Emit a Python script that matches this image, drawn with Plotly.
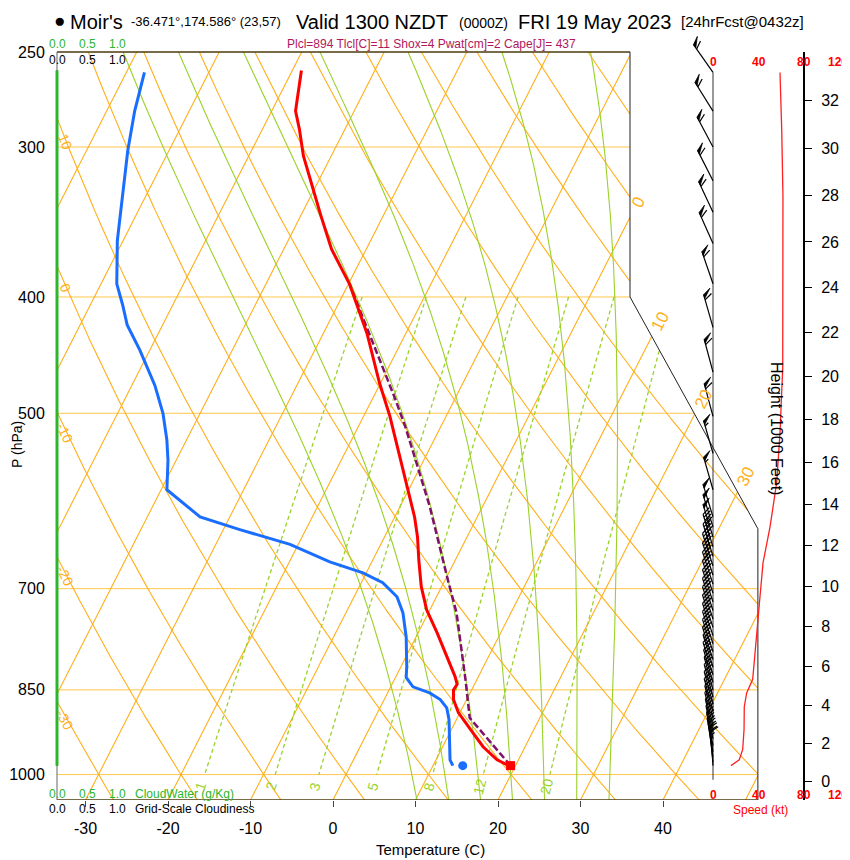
import numpy as np
import plotly.graph_objects as go

# ================= sounding data =================
TEMP_P = [259, 280, 290, 305, 323, 342, 365, 390, 429, 472, 503, 544, 582, 610,
          634, 663, 697, 729, 762, 798, 829, 841, 850, 866, 888, 917, 948, 972, 983]
TEMP_C = [-48.9, -47.1, -45.5, -43.4, -40.5, -37.6, -34.2, -29.9, -24.7, -20.1, -16.8, -13.1, -9.9, -7.6,
          -6.0, -4.4, -2.5, -0.4, 2.3, 5.0, 7.2, 7.9, 7.8, 8.4, 9.8, 12.3, 14.9, 17.4, 19.2]

DEW_P = [260, 280, 302, 332, 359, 390, 406, 422, 443, 474, 500, 526, 547, 579, 610, 625, 643,
         665, 679, 692, 711, 733, 768, 813, 830, 845, 855, 866, 880, 900, 948, 972, 983]
DEW_C = [-67.8, -66.6, -65.0, -62.6, -60.7, -58.1, -56.1, -54.3, -51.2, -47.2, -44.5, -42.4, -41.0,
         -39.3, -33.6, -28.0, -21.0, -15.1, -10.4, -7.4, -4.8, -3.1, -1.2, 0.7, 1.3, 2.7, 5.1, 6.8,
         8.1, 9.1, 10.9, 11.7, 12.4]

PARCEL_P = [983, 897, 833, 733, 688, 646, 598, 550, 513, 485, 458, 429, 410, 390]
PARCEL_C = [19.4, 11.5, 8.6, 3.4, 0.3, -2.7, -6.4, -10.7, -14.3, -17.4, -20.7, -24.4, -27.0, -29.9]

SFC_P = [983]
SFC_T = [19.4]
SFC_TD = [13.6]

SPEED_P = [260, 290, 330, 375, 421, 458, 519, 571, 622, 666, 711, 757, 798, 833, 855, 878,
           917, 953, 972, 981, 983]
SPEED_KT = [58.9, 60.4, 61.5, 61.5, 61.3, 61.3, 58.9, 56.0, 50.1, 44.0, 41.3, 38.7, 36.9, 34.9,
            29.6, 27.5, 27.3, 26.1, 23.1, 17.8, 15.8]

BARB_P = [260, 280, 300, 320, 340, 361, 390, 424, 462, 503, 540, 579, 610,
          622, 634, 646, 658, 670, 682, 694, 706, 718, 730, 742, 754, 766, 778, 790, 802,
          814, 826, 838, 850, 862, 874, 886, 898, 910, 922, 934, 946, 957, 967, 976, 983]
BARB_KT = [59, 60, 60, 61, 61, 61, 61, 61, 61, 59, 57, 55, 52,
           50, 48, 46, 45, 44, 43, 42, 41, 41, 40, 40, 39, 39, 38, 38, 37,
           37, 36, 35, 32, 30, 29, 28, 27, 27, 27, 27, 26, 25, 23, 20, 16]
BARB_DIR = [325, 328, 332, 333, 335, 336, 341, 344, 345, 345, 344, 344, 343,
            343, 343, 343, 343, 342, 342, 342, 342, 342, 342, 342, 342, 342, 342, 342, 342,
            343, 343, 344, 345, 345, 345, 345, 346, 346, 347, 348, 349, 350, 352, 354, 356]

CLOUD_P = [259, 983]
CLOUD_W = [0.0, 0.0]
CLOUDINESS = [0.0, 0.0]

# ================= chart furniture values =================
ISOTHERMS = [-110, -100, -90, -80, -70, -60, -50, -40, -30, -20, -10, 0, 10, 20, 30, 40, 50]
DRY_ADIABATS = [-40, -30, -20, -10, 0, 10, 20, 30, 40, 50, 60, 70, 80, 90, 100, 110, 120, 130, 140]
MOIST_ADIABATS = [8, 12, 16, 20, 24, 28, 32]
MIX_RATIOS = [1, 2, 3, 5, 8, 12, 20]
MIX_LABELS = ["1", "2", "3", "5", "8", "12", "20"]
ISOBARS = [300, 400, 500, 700, 850, 1000]
P_TICKS = [250, 300, 400, 500, 700, 850, 1000]
T_TICKS = [-30, -20, -10, 0, 10, 20, 30, 40]
HEIGHT_KFT = [0, 2, 4, 6, 8, 10, 12, 14, 16, 18, 20, 22, 24, 26, 28, 30, 32]
ISOTHERM_LABELS = [0, 10, 20, 30]
DRY_LABELS = [-30, -20, -10, 0, 10]
SPEED_TICKS = [0, 40, 80, 120]
CLOUD_TICKS = ["0.0", "0.5", "1.0"]
CLOUD_TICK_V = [0.0, 0.5, 1.0]
STAFF_P = [260, 1010]
HEIGHT_AXIS_P = [250, 1050]
FRAME_R_P = [250, 400, 624, 1050]
FRAME_R_X = [36.0, 36.0, 51.5, 51.5]

# ================= geometry (reference pixel frame) =================
PAGE_OFF = 8                         # default body margin of the html page
W_REF, H_REF = 850, 860
PL_REF, PR_REF, PT_REF, PB_REF = 45, 850, 30, 800   # plot area edges in reference pixels
W, H = W_REF - PAGE_OFF, H_REF - PAGE_OFF
ML, MR = PL_REF - PAGE_OFF, W_REF - PR_REF
MT, MB = PT_REF - PAGE_OFF, H_REF - PB_REF
PW, PH = PR_REF - PL_REF, PB_REF - PT_REF
Y_BOT = PB_REF
P_TOP, P_BOT = 250.0, 1050.0
FRAME_TOP_PX = 52
PX_LN = (Y_BOT - FRAME_TOP_PX) / np.log(P_BOT / P_TOP)
P_AX_TOP = P_BOT * np.exp(-PH / PX_LN)
SKEW = 32.2
PX_DEG = 8.25
X0_PX = 333
X_LEFT = (57 - X0_PX) / PX_DEG
SPD0_PX, PX_KT = 713, 1.1375
CLD0_PX, PX_CLD = 57, 60.0

FONT = "Liberation Sans, Arial, Helvetica, sans-serif"
ORANGE = "#FFAF1A"
ISOBAR_C = "#FFC64D"
GREEN = "#9AD22A"
CLOUDGREEN = "#2DB52D"


def skewx(T, p):
    return np.asarray(T, float) + SKEW * np.log(P_BOT / np.asarray(p, float))


def px_x(X):
    return X0_PX + PX_DEG * X


def px_y(p):
    return Y_BOT - PX_LN * np.log(P_BOT / p)


def paper(px, py):
    return (px - PL_REF) / PW, (Y_BOT - py) / PH


def xright(p):
    return np.interp(np.log(p), np.log(FRAME_R_P), FRAME_R_X)


def inside(X, p):
    return (X >= X_LEFT - 1e-9) & (X <= xright(p) + 1e-9) & (p >= P_TOP - 1e-9) & (p <= P_BOT + 1e-9)


def es(tc):
    return 6.112 * np.exp(17.67 * tc / (tc + 243.5))


def td_from_w(w, p):
    e = w * p / (622.0 + w)
    a = np.log(e / 6.112)
    return 243.5 * a / (17.67 - a)


RD, CP, LV, EPS = 287.04, 1005.7, 2.501e6, 0.622


def dTdp(tk, p):
    e = es(tk - 273.15)
    r = EPS * e / (p - e)
    return (RD * tk + LV * r) / (CP + LV * LV * r * EPS / (RD * tk * tk)) / p


def moist(tw, pgrid):
    T = tw + 273.15
    out = [T]
    for i in range(len(pgrid) - 1):
        p0, p1 = pgrid[i], pgrid[i + 1]
        h = p1 - p0
        k1 = dTdp(T, p0)
        k2 = dTdp(T + h * k1 / 2, p0 + h / 2)
        k3 = dTdp(T + h * k2 / 2, p0 + h / 2)
        k4 = dTdp(T + h * k3, p1)
        T = T + h * (k1 + 2 * k2 + 2 * k3 + k4) / 6
        out.append(T)
    return np.array(out) - 273.15


fig = go.Figure()


def nan2none(a):
    return [None if (v is None or (isinstance(v, float) and np.isnan(v))) else float(v) for v in a]


def add_family(lines, color, width, dash=None, xaxis="x"):
    xs, ys = [], []
    for X, P in lines:
        xs.extend(nan2none(list(X)) + [None])
        ys.extend([float(v) for v in P] + [None])
    fig.add_trace(go.Scatter(x=xs, y=ys, mode="lines", xaxis=xaxis, yaxis="y",
                             line=dict(color=color, width=width, dash=dash),
                             hoverinfo="skip", connectgaps=False))


def clipped(X, p):
    X = np.array(X, float)
    X[~inside(X, p)] = np.nan
    return X, p


PD = np.geomspace(P_TOP, P_BOT, 2500)

# isobars
iso_lines = []
for pb in ISOBARS:
    iso_lines.append(([X_LEFT, float(xright(pb))], [pb, pb]))
add_family(iso_lines, ISOBAR_C, 1.0)

# isotherms
add_family([clipped(skewx(np.full_like(PD, t), PD), PD) for t in ISOTHERMS], ORANGE, 1.1)

# dry adiabats
dry = []
for th in DRY_ADIABATS:
    T = (th + 273.15) * (PD / 1000.0) ** 0.2857 - 273.15
    dry.append(clipped(skewx(T, PD), PD))
add_family(dry, ORANGE, 1.1)

# moist adiabats
p_up = np.geomspace(1000, P_TOP, 500)
p_dn = np.geomspace(1000, P_BOT, 20)
moist_lines = []
for tw in MOIST_ADIABATS:
    tu = moist(tw, p_up)
    td = moist(tw, p_dn)
    pp = np.concatenate([p_dn[::-1], p_up[1:]])
    tt = np.concatenate([td[::-1], tu[1:]])
    moist_lines.append(clipped(skewx(tt, pp), pp))
add_family(moist_lines, GREEN, 1.1)

# mixing ratio lines
pm = np.geomspace(400, 1000, 400)
add_family([clipped(skewx(td_from_w(w, pm), pm), pm) for w in MIX_RATIOS], GREEN, 1.3, dash="4px,3px")

# frame
fig.add_trace(go.Scatter(x=[X_LEFT, FRAME_R_X[0]], y=[P_TOP, P_TOP], mode="lines",
                         line=dict(color="#4B3A0E", width=1.5), hoverinfo="skip"))
fig.add_trace(go.Scatter(x=[X_LEFT, FRAME_R_X[-1]], y=[P_BOT, P_BOT], mode="lines",
                         line=dict(color="#4B3A0E", width=1.5), hoverinfo="skip"))
fig.add_trace(go.Scatter(x=[X_LEFT, X_LEFT], y=[P_TOP, P_BOT * 1.008], mode="lines",
                         line=dict(color="#666666", width=1), hoverinfo="skip"))
fig.add_trace(go.Scatter(x=FRAME_R_X, y=FRAME_R_P, mode="lines",
                         line=dict(color="#222222", width=1), hoverinfo="skip"))

# cloud water / cloudiness (zero)
fig.add_trace(go.Scatter(x=CLOUDINESS, y=CLOUD_P, xaxis="x3", mode="lines",
                         line=dict(color="black", width=1), hoverinfo="skip"))
fig.add_trace(go.Scatter(x=CLOUD_W, y=CLOUD_P, xaxis="x3", mode="lines",
                         line=dict(color=CLOUDGREEN, width=3), hoverinfo="skip"))

# profiles
fig.add_trace(go.Scatter(x=skewx(DEW_C, DEW_P), y=DEW_P, mode="lines",
                         line=dict(color="#1A6EFF", width=3), hoverinfo="skip"))
fig.add_trace(go.Scatter(x=skewx(PARCEL_C, PARCEL_P), y=PARCEL_P, mode="lines",
                         line=dict(color="#80106A", width=2.5, dash="7px,3px"), hoverinfo="skip"))
fig.add_trace(go.Scatter(x=skewx(TEMP_C, TEMP_P), y=TEMP_P, mode="lines",
                         line=dict(color="#FF0000", width=3), hoverinfo="skip"))
fig.add_trace(go.Scatter(x=skewx(SFC_TD, SFC_P), y=SFC_P, mode="markers",
                         marker=dict(color="#1A6EFF", size=9, symbol="circle"), hoverinfo="skip"))
fig.add_trace(go.Scatter(x=skewx(SFC_T, SFC_P), y=SFC_P, mode="markers",
                         marker=dict(color="#FF0000", size=9, symbol="square"), hoverinfo="skip"))

# ---- wind panel ----
fig.add_trace(go.Scatter(x=[0, 0], y=STAFF_P, xaxis="x2", mode="lines",
                         line=dict(color="#333333", width=1), hoverinfo="skip"))
fig.add_trace(go.Scatter(x=[80, 80], y=HEIGHT_AXIS_P, xaxis="x2", mode="lines",
                         line=dict(color="black", width=2), hoverinfo="skip"))
fig.add_trace(go.Scatter(x=SPEED_KT, y=SPEED_P, xaxis="x2", mode="lines",
                         line=dict(color="#FF2020", width=1.3), hoverinfo="skip"))

STAFF_L, FEATH_L, FLAG_W, SPACING = 34.0, 9.0, 4.0, 3.2
bx, by, fx_all, fy_all = [], [], [], []
for p0, kt, d in zip(BARB_P, BARB_KT, BARB_DIR):
    r = np.radians(d)
    sx, sy = np.sin(r), -np.cos(r)
    nx, ny = -sy, sx
    fx, fy = 0.87 * nx + 0.5 * sx, 0.87 * ny + 0.5 * sy

    def pt(dist):
        return (STAFF_L - dist) * sx, (STAFF_L - dist) * sy

    def conv(pxs, pys):
        return [v / PX_KT for v in pxs], [p0 * np.exp(v / PX_LN) for v in pys]

    segs = [([0, STAFF_L * sx], [0, STAFF_L * sy])]
    polys = []
    n = int(round(kt / 5.0)) * 5
    nfl = n // 50
    n -= 50 * nfl
    nfull = n // 10
    nhalf = (n % 10) // 5
    pos = 0.0
    for _ in range(nfl):
        ax, ay = pt(pos)
        cx, cy = pt(pos + FLAG_W)
        polys.append(([ax, ax + FEATH_L * fx, cx, ax], [ay, ay + FEATH_L * fy, cy, ay]))
        pos += FLAG_W + 1.5
    for _ in range(nfull):
        ax, ay = pt(pos)
        segs.append(([ax, ax + FEATH_L * fx], [ay, ay + FEATH_L * fy]))
        pos += SPACING
    if nhalf:
        if nfl == 0 and nfull == 0:
            pos += SPACING
        ax, ay = pt(pos)
        segs.append(([ax, ax + FEATH_L * 0.5 * fx], [ay, ay + FEATH_L * 0.5 * fy]))
    for sxs, sys_ in segs:
        a, b = conv(sxs, sys_)
        bx.extend(a + [None]); by.extend(b + [None])
    for sxs, sys_ in polys:
        a, b = conv(sxs, sys_)
        fx_all.extend(a + [None]); fy_all.extend(b + [None])

fig.add_trace(go.Scatter(x=bx, y=by, xaxis="x2", mode="lines",
                         line=dict(color="black", width=1.2), hoverinfo="skip"))
fig.add_trace(go.Scatter(x=fx_all, y=fy_all, xaxis="x2", mode="lines", fill="toself",
                         fillcolor="black", line=dict(color="black", width=0.8), hoverinfo="skip"))

# height axis dummy trace
HEIGHT_P = [1013.25 * (1 - 2.25577e-5 * h * 304.8) ** 5.25588 for h in HEIGHT_KFT]
fig.add_trace(go.Scatter(x=[0], y=[500], xaxis="x2", yaxis="y2", mode="markers",
                         marker=dict(opacity=0), hoverinfo="skip"))

# ================= annotations =================
ann = []


def text(px, py, s, size, color="black", xanchor="center", angle=0, yanchor="middle"):
    x, y = paper(px, py)
    ann.append(dict(x=x, y=y, xref="paper", yref="paper", text=s, showarrow=False,
                    xanchor=xanchor, yanchor=yanchor, textangle=angle,
                    font=dict(family=FONT, size=size, color=color)))


# title
text(59, 21, "●", 19, xanchor="center")
text(68, 22, "Moir's", 20, xanchor="left")
text(129, 22, "-36.471°,174.586° (23,57)", 13, xanchor="left")
text(294, 22, "Valid 1300 NZDT", 20, xanchor="left")
text(457, 23, "(0000Z)", 14, xanchor="left")
text(516, 22, "FRI 19 May 2023", 20, xanchor="left")
text(679, 22, "[24hrFcst@0432z]", 15, xanchor="left")
text(431, 44, "Plcl=894 Tlcl[C]=11 Shox=4 Pwat[cm]=2 Cape[J]= 437", 12, color="#B0185C")

# cloud scales
for v, s in zip(CLOUD_TICK_V, CLOUD_TICKS):
    cx = CLD0_PX + PX_CLD * v
    text(cx, 44, s, 12, color=CLOUDGREEN)
    text(cx, 60, s, 12, color="black")
    text(cx, 794, s, 12, color=CLOUDGREEN)
    text(cx, 809, s, 12, color="black")
text(133, 794, "CloudWater (g/Kg)", 12, color=CLOUDGREEN, xanchor="left")
text(133, 809, "Grid-Scale Cloudiness", 12, color="black", xanchor="left")

# speed scales
for v in SPEED_TICKS:
    sxp = SPD0_PX + PX_KT * v
    if sxp > W_REF - 12:
        text(W_REF, 62, "<b>%d</b>" % v, 12, color="#FF0000", xanchor="right")
        text(W_REF, 795, "<b>%d</b>" % v, 12, color="#FF0000", xanchor="right")
    else:
        text(sxp, 62, "<b>%d</b>" % v, 12, color="#FF0000")
        text(sxp, 795, "<b>%d</b>" % v, 12, color="#FF0000")
text(760, 810, "Speed (kt)", 12, color="#FF0000")

# axis titles
text(430, 850, "Temperature (C)", 15)
text(17, 445, "P (hPa)", 14, angle=-90)
text(777, 428, "Height (1000 Feet)", 16, angle=90)

# isotherm labels
ang_iso = -np.degrees(np.arctan2(PX_LN, PX_DEG * SKEW))
for t in ISOTHERM_LABELS:
    X = skewx(np.full_like(PD, t), PD)
    m = inside(X, PD)
    pe = PD[m].min()
    pl = pe * np.exp(-15 / PX_LN)
    Xl = float(skewx(t, pl))
    text(px_x(Xl) + 1, px_y(pl), str(t), 17, color=ORANGE, angle=ang_iso)

# dry adiabat labels near left edge
for th in DRY_LABELS:
    T = (th + 273.15) * (PD / 1000.0) ** 0.2857 - 273.15
    X = skewx(T, PD)
    target = X_LEFT + 1.0
    pl = float(np.exp(np.interp(target, X, np.log(PD))))
    p2 = pl * 1.02
    x1, y1 = px_x(target), px_y(pl)
    T2 = (th + 273.15) * (p2 / 1000.0) ** 0.2857 - 273.15
    x2, y2 = px_x(float(skewx(T2, p2))), px_y(p2)
    ang = np.degrees(np.arctan2(y2 - y1, x2 - x1))
    text(x1, y1 + 3, str(th), 14, color=ORANGE, angle=ang)

# mixing ratio labels
for w, s in zip(MIX_RATIOS, MIX_LABELS):
    pl = 1023.0
    X = float(skewx(td_from_w(w, pl), pl))
    p2 = 1000.0
    X2 = float(skewx(td_from_w(w, p2), p2))
    ang = np.degrees(np.arctan2(px_y(p2) - px_y(pl), px_x(X2) - px_x(X)))
    text(px_x(X), px_y(pl), s, 14, color=GREEN, angle=ang)

# ================= layout =================
fig.update_layout(
    width=W, height=H, margin=dict(l=ML, r=MR, t=MT, b=MB),
    paper_bgcolor="white", plot_bgcolor="white", showlegend=False,
    font=dict(family=FONT, color="black"),
    xaxis=dict(domain=[0, 1], range=[(PL_REF - X0_PX) / PX_DEG, (PR_REF - X0_PX) / PX_DEG],
               tickvals=T_TICKS, ticktext=[str(t) for t in T_TICKS],
               ticks="outside", ticklen=6, tickcolor="#444444", showgrid=False, zeroline=False,
               showline=False, tickfont=dict(size=16, family=FONT), ticklabelstandoff=8, anchor="y"),
    xaxis2=dict(overlaying="x", domain=[0, 1],
                range=[(PL_REF - SPD0_PX) / PX_KT, (PR_REF - SPD0_PX) / PX_KT],
                visible=False, anchor="y"),
    xaxis3=dict(overlaying="x", domain=[0, 1],
                range=[(PL_REF - CLD0_PX) / PX_CLD, (PR_REF - CLD0_PX) / PX_CLD],
                visible=False, anchor="y"),
    yaxis=dict(type="log", domain=[0, 1], range=[np.log10(P_BOT), np.log10(P_AX_TOP)],
               tickvals=P_TICKS, ticktext=[str(p) for p in P_TICKS],
               ticks="outside", ticklen=9, tickcolor="rgba(0,0,0,0)",
               showgrid=False, zeroline=False, showline=False,
               anchor="free", position=(57 - PL_REF) / PW, tickfont=dict(size=16, family=FONT)),
    yaxis2=dict(type="log", overlaying="y", range=[np.log10(P_BOT), np.log10(P_AX_TOP)],
                tickvals=HEIGHT_P, ticktext=[str(h) for h in HEIGHT_KFT],
                ticks="outside", ticklen=7, tickcolor="black", side="right",
                anchor="free", position=(804 - PL_REF) / PW, showgrid=False, zeroline=False,
                showline=False, tickfont=dict(size=16, family=FONT), ticklabelstandoff=6),
    annotations=ann,
)

fig.write_html("out.html")
